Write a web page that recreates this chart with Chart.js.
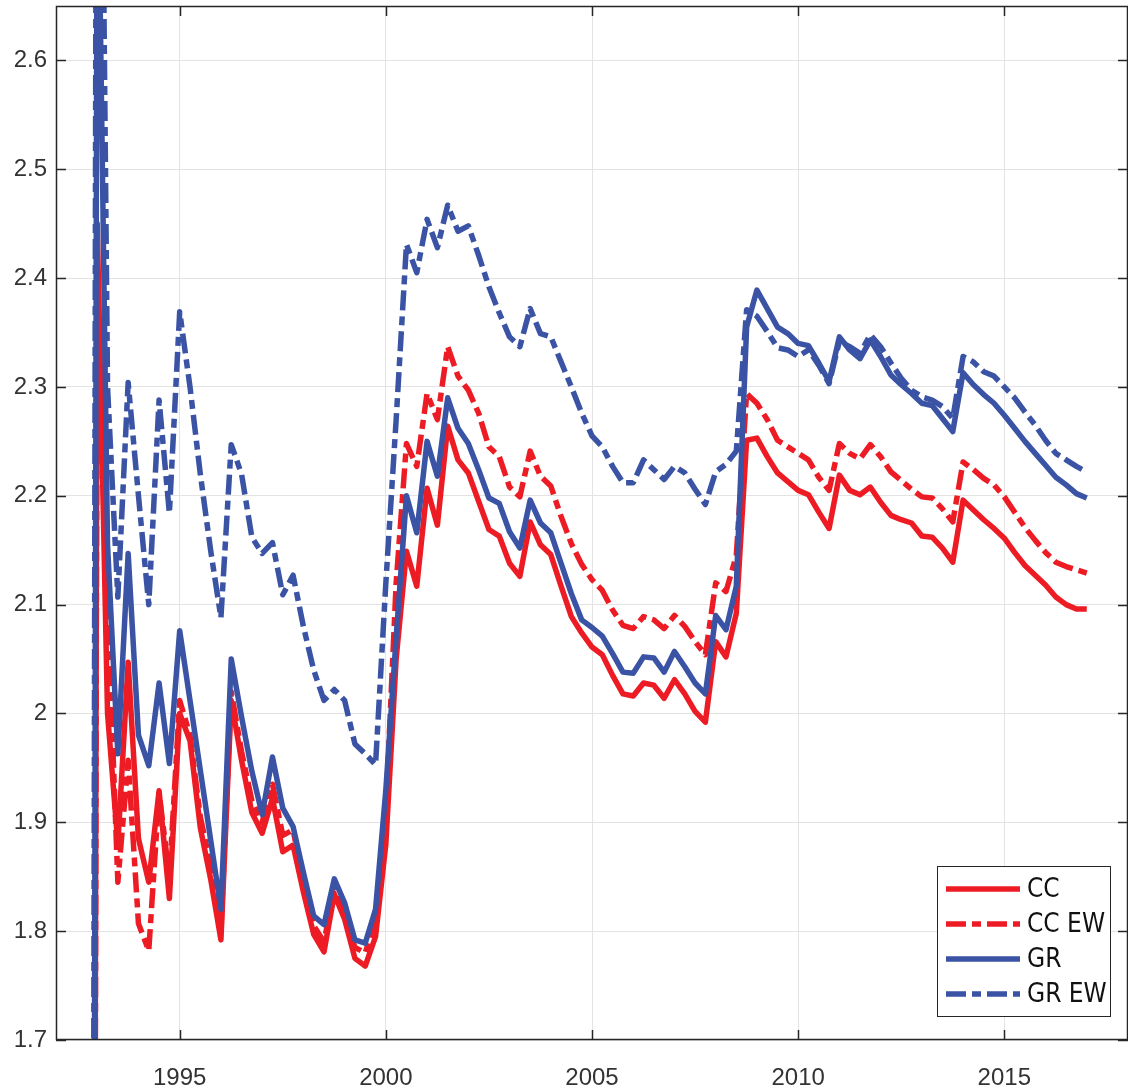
<!DOCTYPE html>
<html><head><meta charset="utf-8">
<style>html,body{margin:0;padding:0;background:#fff;overflow:hidden}#wrap{width:1128px;height:1092px;position:relative}</style>
<script src="https://cdn.jsdelivr.net/npm/chart.js@4.4.1/dist/chart.umd.min.js"></script>
</head><body><div id="wrap"><canvas id="c" width="1128" height="1092"></canvas></div>
<script>
const quarters = [1992.75,
1993.00,1993.25,1993.50,1993.75,1994.00,1994.25,1994.50,1994.75,
1995.00,1995.25,1995.50,1995.75,1996.00,1996.25,1996.50,1996.75,
1997.00,1997.25,1997.50,1997.75,1998.00,1998.25,1998.50,1998.75,
1999.00,1999.25,1999.50,1999.75,2000.00,2000.25,2000.50,2000.75,
2001.00,2001.25,2001.50,2001.75,2002.00,2002.25,2002.50,2002.75,
2003.00,2003.25,2003.50,2003.75,2004.00,2004.25,2004.50,2004.75,
2005.00,2005.25,2005.50,2005.75,2006.00,2006.25,2006.50,2006.75,
2007.00,2007.25,2007.50,2007.75,2008.00,2008.25,2008.50,2008.75,
2009.00,2009.25,2009.50,2009.75,2010.00,2010.25,2010.50,2010.75,
2011.00,2011.25,2011.50,2011.75,2012.00,2012.25,2012.50,2012.75,
2013.00,2013.25,2013.50,2013.75,2014.00,2014.25,2014.50,2014.75,
2015.00,2015.25,2015.50,2015.75,2016.00,2016.25,2016.50,2016.75,
2017.00];

const ccValues = [-1.5,
2.45,2.00,1.88,2.047,1.885,1.845,1.929,1.83,
2.00,1.975,1.895,1.848,1.792,2.012,1.957,1.909,
1.89,1.922,1.873,1.879,1.836,1.797,1.781,1.834,
1.811,1.775,1.768,1.795,1.88,2.05,2.149,2.117,
2.207,2.173,2.264,2.233,2.221,2.195,2.169,2.163,
2.138,2.126,2.176,2.155,2.146,2.117,2.089,2.074,
2.061,2.054,2.035,2.018,2.016,2.028,2.026,2.014,
2.031,2.018,2.002,1.992,2.066,2.052,2.092,2.251,
2.253,2.236,2.221,2.213,2.205,2.201,2.185,2.17,
2.219,2.205,2.201,2.208,2.194,2.182,2.178,2.175,
2.163,2.162,2.152,2.139,2.196,2.187,2.178,2.17,
2.161,2.148,2.136,2.127,2.118,2.107,2.10,2.096,
2.096];

const ccEwValues = [-1.5,
2.40,2.10,1.845,1.957,1.807,1.782,1.927,1.85,
2.012,1.98,1.905,1.86,1.80,2.02,1.965,1.92,
1.90,1.935,1.888,1.893,1.845,1.805,1.79,1.84,
1.815,1.785,1.78,1.81,1.91,2.12,2.248,2.227,
2.294,2.27,2.337,2.31,2.297,2.276,2.245,2.236,
2.208,2.199,2.241,2.218,2.209,2.181,2.156,2.137,
2.123,2.113,2.095,2.081,2.078,2.089,2.086,2.078,
2.09,2.08,2.066,2.054,2.12,2.112,2.145,2.294,
2.285,2.27,2.251,2.245,2.239,2.233,2.217,2.205,
2.248,2.239,2.234,2.247,2.236,2.222,2.214,2.206,
2.199,2.198,2.188,2.176,2.231,2.224,2.216,2.21,
2.199,2.185,2.171,2.159,2.148,2.139,2.135,2.132,
2.129];

const grValues = [-1.5,
2.85,2.155,1.963,2.147,1.98,1.952,2.028,1.954,
2.076,2.012,1.948,1.884,1.82,2.05,1.997,1.947,
1.907,1.96,1.913,1.896,1.854,1.814,1.806,1.848,
1.826,1.792,1.789,1.82,1.93,2.07,2.20,2.166,
2.25,2.218,2.29,2.262,2.248,2.224,2.198,2.193,
2.167,2.152,2.196,2.175,2.166,2.138,2.11,2.086,
2.079,2.071,2.055,2.038,2.037,2.052,2.051,2.038,
2.057,2.043,2.028,2.018,2.09,2.077,2.117,2.355,
2.389,2.372,2.355,2.349,2.34,2.338,2.322,2.305,
2.346,2.334,2.326,2.343,2.328,2.311,2.302,2.294,
2.285,2.283,2.271,2.259,2.313,2.302,2.293,2.285,
2.274,2.262,2.25,2.239,2.228,2.217,2.21,2.202,
2.198];

const grEwValues = [-1.5,
3.3,2.30,2.107,2.304,2.20,2.10,2.288,2.184,
2.369,2.30,2.22,2.15,2.088,2.247,2.22,2.162,
2.147,2.157,2.109,2.127,2.08,2.04,2.012,2.022,
2.012,1.972,1.963,1.953,2.12,2.27,2.431,2.405,
2.454,2.428,2.467,2.443,2.448,2.421,2.392,2.368,
2.346,2.337,2.372,2.349,2.346,2.323,2.30,2.276,
2.255,2.245,2.227,2.212,2.212,2.233,2.224,2.215,
2.227,2.221,2.206,2.192,2.222,2.229,2.241,2.371,
2.365,2.351,2.336,2.334,2.328,2.334,2.32,2.303,
2.342,2.337,2.331,2.348,2.337,2.322,2.308,2.297,
2.291,2.288,2.282,2.271,2.328,2.323,2.314,2.31,
2.30,2.29,2.277,2.265,2.251,2.239,2.233,2.227,
2.222];

const seriesNames = ['CC', 'CC EW', 'GR', 'GR EW'];
const xTickValues = [1995, 2000, 2005, 2010, 2015];
const yTickValues = [1.7, 1.8, 1.9, 2.0, 2.1, 2.2, 2.3, 2.4, 2.5, 2.6];

const RED = '#ED1C24';
const BLUE = '#3A53A4';
const DASH = [20, 6, 9, 6];
const TICK_FONT = "'Liberation Sans', Arial, sans-serif";
const LEGEND_FONT = "'Liberation Sans Narrow', 'DejaVu Sans Condensed', 'Liberation Sans', sans-serif";
const AXIS_COLOR = '#262626';
const LINE_W = 5.5;

function toPoints(vals) { return quarters.map((q, i) => ({ x: q, y: vals[i] })); }

const seriesValues = [ccValues, ccEwValues, grValues, grEwValues];
const seriesColors = [RED, RED, BLUE, BLUE];
const seriesDash = [[], DASH, [], DASH];

const datasets = seriesNames.map((name, i) => ({
  label: name,
  data: toPoints(seriesValues[i]),
  borderColor: seriesColors[i],
  backgroundColor: seriesColors[i],
  borderWidth: LINE_W,
  borderDash: seriesDash[i],
  borderJoinStyle: 'round',
  borderCapStyle: 'butt',
  pointRadius: 0,
  tension: 0,
  fill: false,
  clip: 0,
  order: 4 - i
}));

const boxPlugin = {
  id: 'boxTicks',
  afterDraw(chart) {
    const { ctx, chartArea: a, scales } = chart;
    const x = scales.x, y = scales.y;
    ctx.save();
    ctx.strokeStyle = AXIS_COLOR;
    ctx.lineWidth = 1.5;
    ctx.beginPath();
    xTickValues.forEach(v => {
      const px = Math.round(x.getPixelForValue(v)) + 0.5;
      ctx.moveTo(px, a.bottom); ctx.lineTo(px, a.bottom - 10);
      ctx.moveTo(px, a.top); ctx.lineTo(px, a.top + 10);
    });
    yTickValues.forEach(v => {
      const py = Math.round(y.getPixelForValue(v)) + 0.5;
      ctx.moveTo(a.left, py); ctx.lineTo(a.left + 10, py);
      ctx.moveTo(a.right, py); ctx.lineTo(a.right - 10, py);
    });
    ctx.stroke();
    ctx.strokeRect(a.left + 0.5, a.top + 0.5, a.right - a.left - 1, a.bottom - a.top - 1);
    ctx.restore();

    // legend
    const bx = a.right - 191, by = a.bottom - 174, bw = 173, bh = 150;
    ctx.save();
    ctx.fillStyle = '#ffffff';
    ctx.fillRect(bx, by, bw, bh);
    ctx.strokeStyle = AXIS_COLOR;
    ctx.lineWidth = 1;
    ctx.strokeRect(bx + 0.5, by + 0.5, bw, bh);
    ctx.font = "26px " + LEGEND_FONT;
    ctx.textBaseline = 'middle';
    ctx.textAlign = 'left';
    chart.data.datasets.forEach((ds, i) => {
      const ry = by + 23 + i * 35;
      ctx.strokeStyle = ds.borderColor;
      ctx.lineWidth = LINE_W;
      ctx.setLineDash(ds.borderDash || []);
      ctx.beginPath();
      ctx.moveTo(bx + 9, ry); ctx.lineTo(bx + 83, ry);
      ctx.stroke();
      ctx.setLineDash([]);
      ctx.fillStyle = '#111';
      ctx.fillText(ds.label, bx + 90, ry + 1);
    });
    ctx.restore();
  }
};

new Chart(document.getElementById('c'), {
  type: 'line',
  data: { datasets },
  plugins: [boxPlugin],
  options: {
    responsive: false,
    animation: false,
    events: [],
    layout: { padding: { top: 6, right: 0, left: 0, bottom: 0 } },
    plugins: { legend: { display: false }, tooltip: { enabled: false } },
    scales: {
      x: {
        type: 'linear', min: 1992, max: 2018,
        afterBuildTicks: s => { s.ticks = xTickValues.map(v => ({ value: v })); },
        afterFit: s => { s.height = 52; s.paddingLeft = 0; s.paddingRight = 0; },
        grid: { color: '#e3e3e3', lineWidth: 1, drawTicks: false },
        border: { display: false },
        ticks: { font: { family: TICK_FONT, size: 24 }, color: '#333', padding: 24, maxRotation: 0,
                 callback: v => String(v) }
      },
      y: {
        type: 'linear', min: 1.7, max: 2.65,
        afterBuildTicks: s => { s.ticks = yTickValues.map(v => ({ value: v })); },
        afterFit: s => { s.width = 56; s.paddingTop = 0; s.paddingBottom = 0; },
        grid: { color: '#e3e3e3', lineWidth: 1, drawTicks: false },
        border: { display: false },
        ticks: { font: { family: TICK_FONT, size: 24 }, color: '#333', padding: 9,
                 callback: v => String(Math.round(v * 10) / 10) }
      }
    }
  }
});
</script></body></html>
